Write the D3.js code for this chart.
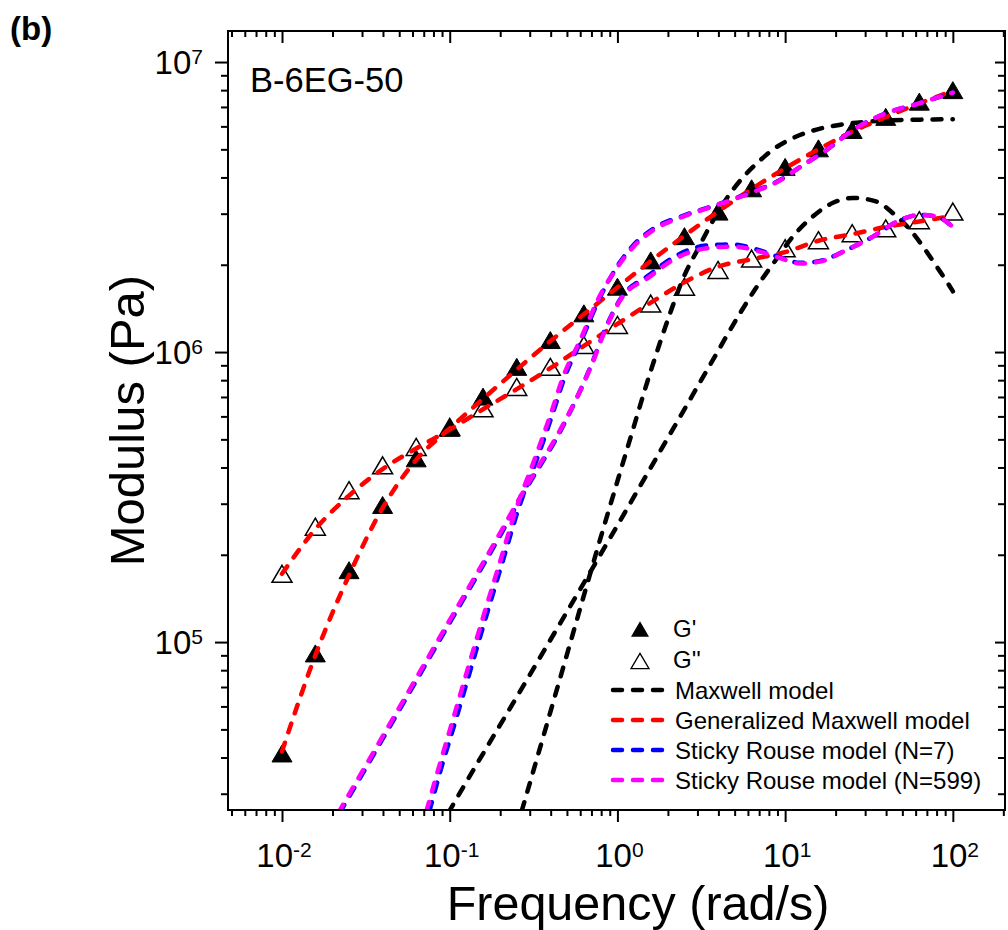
<!DOCTYPE html>
<html>
<head>
<meta charset="utf-8">
<script src="https://cdn.jsdelivr.net/npm/d3@7"></script>
<style>
  body { margin: 0; background: #fff; }
  text { font-family: Arial, "Liberation Sans", sans-serif; fill: #000; }
</style>
</head>
<body>
<div class="chart"></div>
<script>
// measured data (rad/s, Pa)
var omega = [0.01, 0.0158, 0.0251, 0.0398, 0.0631, 0.1, 0.158, 0.251, 0.398, 0.631, 1, 1.58, 2.51, 3.98, 6.31, 10, 15.8, 25.1, 39.8, 63.1, 100];
var gPrime = [41300, 91400, 177000, 297000, 430000, 548000, 702000, 889000, 1100000, 1360000, 1680000, 2070000, 2510000, 3050000, 3670000, 4350000, 5040000, 5830000, 6470000, 7300000, 8000000];
var gDouble = [172000, 250000, 334000, 407000, 471000, 552000, 640000, 758000, 889000, 1057000, 1240000, 1470000, 1680000, 1920000, 2100000, 2280000, 2430000, 2570000, 2670000, 2850000, 3050000];

// generalized Maxwell fit, same frequencies
var genMaxGp = [42000, 90000, 170000, 290000, 425000, 545000, 690000, 870000, 1090000, 1350000, 1670000, 2060000, 2520000, 3050000, 3650000, 4300000, 5000000, 5750000, 6450000, 7200000, 7950000];
var genMaxGpp = [172000, 245000, 320000, 395000, 465000, 540000, 635000, 745000, 880000, 1050000, 1250000, 1480000, 1740000, 1970000, 2090000, 2210000, 2420000, 2550000, 2700000, 2820000, 2950000];

// single Maxwell model [omega, G]
var maxwellGp = [[0.249, 22500], [0.27, 26400], [0.5, 90600], [0.787, 225000], [1.137, 459000], [1.6, 880000], [2.06, 1360000], [2.5, 1830000], [3.0, 2250000], [3.6, 2750000], [4.5, 3400000], [5.6, 4000000], [7.0, 4550000], [8.5, 5000000], [11, 5450000], [15.4, 5850000], [21, 6070000], [30, 6220000], [44, 6300000], [64, 6330000], [100, 6350000]];
var maxwellGpp = [[0.0857, 22500], [0.1005, 26400], [0.3, 77000], [0.942, 238000], [2.0, 506000], [3.5, 886000], [5.38, 1360000], [6.78, 1680000], [8.92, 2100000], [11.1, 2500000], [14.1, 2880000], [19.3, 3270000], [25.4, 3400000], [35.2, 3300000], [44, 3010000], [55.6, 2640000], [66.4, 2310000], [80.2, 1970000], [96.2, 1680000], [100, 1620000]];

// sticky Rouse N=599 [omega, G]
var rouse599Gp = [[0.0675, 22500], [0.073, 26400], [0.085, 36000], [0.1, 49500], [0.12, 71000], [0.15, 110000], [0.2, 190000], [0.25, 290000], [0.32, 425000], [0.4, 610000], [0.474, 820000], [0.6, 1100000], [0.78, 1550000], [1.0, 1960000], [1.24, 2300000], [1.63, 2630000], [2.46, 2930000], [3.91, 3210000], [6.18, 3530000], [9.33, 3910000], [12.3, 4350000], [17.7, 4980000], [25.4, 5830000], [40.4, 6670000], [63.7, 7220000], [100, 7850000]];
var rouse599Gpp = [[0.0189, 22500], [0.0222, 26400], [0.05, 59400], [0.1, 119000], [0.15, 178000], [0.2, 238000], [0.246, 295000], [0.3, 360000], [0.455, 538000], [0.7, 900000], [0.85, 1200000], [1.04, 1510000], [1.56, 1820000], [2.15, 2080000], [3.41, 2280000], [4.89, 2310000], [7.08, 2220000], [9.33, 2110000], [12.3, 2020000], [16.1, 2050000], [23.3, 2250000], [33.4, 2500000], [48.4, 2850000], [63.7, 2970000], [80.2, 2930000], [100, 2700000]];

// sticky Rouse N=7 [omega, G]
var rouse7Gp = [[0.0702, 22500], [0.076, 26400], [0.088, 36000], [0.104, 49500], [0.125, 71000], [0.156, 110000], [0.207, 190000], [0.258, 290000], [0.33, 425000], [0.41, 610000], [0.485, 820000], [0.61, 1100000], [0.79, 1550000], [1.0, 1980000], [1.24, 2330000], [1.63, 2660000], [2.46, 2950000], [3.91, 3220000], [6.18, 3540000], [9.33, 3920000], [12.3, 4350000], [17.7, 4980000], [25.4, 5830000], [40.4, 6670000], [63.7, 7220000], [100, 7850000]];
var rouse7Gpp = [[0.0192, 22500], [0.0226, 26400], [0.051, 59400], [0.102, 119000], [0.153, 178000], [0.204, 238000], [0.25, 295000], [0.305, 360000], [0.46, 538000], [0.7, 905000], [0.85, 1210000], [1.04, 1520000], [1.56, 1850000], [2.15, 2120000], [3.41, 2330000], [4.89, 2350000], [7.08, 2240000], [9.33, 2120000], [12.3, 2030000], [16.1, 2060000], [23.3, 2250000], [33.4, 2500000], [48.4, 2850000], [63.7, 2970000], [80.2, 2930000], [100, 2700000]];

var xMajor = [0.01, 0.1, 1, 10, 100];
var yMajor = [1e5, 1e6, 1e7];

var legendItems = ["Maxwell model", "Generalized Maxwell model", "Sticky Rouse model (N=7)", "Sticky Rouse model (N=599)"];
var legendColors = ["#000000", "#ff0000", "#0000ff", "#ff00ff"];

var W = 1008, H = 930;
var pLeft = 228, pRight = 1005, pTop = 31, pBottom = 810;

var svg = d3.select(".chart").append("svg")
    .attr("width", W)
    .attr("height", H);

var xScale = d3.scaleLog()
    .domain([Math.pow(10, -2.322), Math.pow(10, 2.311)])
    .range([pLeft, pRight]);
var yScale = d3.scaleLog()
    .domain([Math.pow(10, 4.421), Math.pow(10, 7.107)])
    .range([pBottom, pTop]);

function minorTicks(scale, lo, hi) {
    var out = [];
    var d = scale.domain();
    for (var e = lo; e <= hi; e++) {
        for (var k = 2; k <= 9; k++) {
            var v = k * Math.pow(10, e);
            if (v > d[0] && v < d[1]) out.push(v);
        }
    }
    return out;
}
var xMinor = minorTicks(xScale, -3, 2);
var yMinor = minorTicks(yScale, 4, 7);

function tickAxis(axis, g) {
    g.call(axis);
    g.select(".domain").remove();
    g.selectAll(".tick line").attr("stroke", "#000").attr("stroke-width", 2);
}

// bottom (outside) and top (inside)
tickAxis(d3.axisBottom(xScale).tickValues(xMajor).tickSize(12).tickFormat(""),
    svg.append("g").attr("transform", "translate(0," + pBottom + ")"));
tickAxis(d3.axisBottom(xScale).tickValues(xMinor).tickSize(6).tickFormat(""),
    svg.append("g").attr("transform", "translate(0," + pBottom + ")"));
tickAxis(d3.axisBottom(xScale).tickValues(xMajor).tickSize(12).tickFormat(""),
    svg.append("g").attr("transform", "translate(0," + pTop + ")"));
tickAxis(d3.axisBottom(xScale).tickValues(xMinor).tickSize(6).tickFormat(""),
    svg.append("g").attr("transform", "translate(0," + pTop + ")"));
// left (outside) and right (inside)
tickAxis(d3.axisLeft(yScale).tickValues(yMajor).tickSize(13).tickFormat(""),
    svg.append("g").attr("transform", "translate(" + pLeft + ",0)"));
tickAxis(d3.axisLeft(yScale).tickValues(yMinor).tickSize(7).tickFormat(""),
    svg.append("g").attr("transform", "translate(" + pLeft + ",0)"));
tickAxis(d3.axisLeft(yScale).tickValues(yMajor).tickSize(10).tickFormat(""),
    svg.append("g").attr("transform", "translate(" + pRight + ",0)"));
tickAxis(d3.axisLeft(yScale).tickValues(yMinor).tickSize(7).tickFormat(""),
    svg.append("g").attr("transform", "translate(" + pRight + ",0)"));

// tick labels as 10^n
function powLabel(sel) {
    sel.append("tspan").text("10");
    sel.append("tspan")
        .attr("font-size", 21)
        .attr("dy", -10)
        .text(function(d) { return Math.round(Math.log10(d)); });
}
svg.selectAll(".xlab").data(xMajor).enter().append("text")
    .attr("class", "xlab")
    .attr("x", function(d) { return xScale(d) + 2; })
    .attr("y", 867)
    .attr("text-anchor", "middle")
    .attr("font-size", 33)
    .call(powLabel);
svg.selectAll(".ylab").data(yMajor).enter().append("text")
    .attr("class", "ylab")
    .attr("x", 203)
    .attr("y", function(d) { return yScale(d) + 12; })
    .attr("text-anchor", "end")
    .attr("font-size", 33)
    .call(powLabel);

// axis titles
svg.append("text")
    .attr("x", 638)
    .attr("y", 920)
    .attr("text-anchor", "middle")
    .attr("font-size", 48.5)
    .text("Frequency (rad/s)");
svg.append("text")
    .attr("transform", "translate(144," + (pTop + pBottom) / 2 + ") rotate(-90)")
    .attr("text-anchor", "middle")
    .attr("font-size", 49)
    .text("Modulus (Pa)");

svg.append("text")
    .attr("x", 10)
    .attr("y", 40)
    .attr("font-size", 33)
    .attr("font-weight", "bold")
    .text("(b)");
svg.append("text")
    .attr("x", 250)
    .attr("y", 92)
    .attr("font-size", 34.5)
    .text("B-6EG-50");

// clip
svg.append("clipPath").attr("id", "plotclip")
    .append("rect")
    .attr("x", pLeft).attr("y", pTop)
    .attr("width", pRight - pLeft).attr("height", pBottom - pTop);

var plot = svg.append("g").attr("clip-path", "url(#plotclip)");

var triangle = {
    draw: function(context, size) {
        var w = Math.sqrt(size) / 2, h = w * 0.85;
        context.moveTo(0, -h);
        context.lineTo(w, h);
        context.lineTo(-w, h);
        context.closePath();
    }
};

function pointsFrom(vals) {
    return omega.map(function(w, i) { return [w, vals[i]]; });
}

var pointsGp = pointsFrom(gPrime);
var pointsGpp = pointsFrom(gDouble);

plot.selectAll(".gpp").data(pointsGpp).enter().append("path")
    .attr("class", "gpp")
    .attr("d", d3.symbol().type(triangle).size(400))
    .attr("transform", function(d) { return "translate(" + xScale(d[0]) + "," + yScale(d[1]) + ")"; })
    .attr("fill", "#fff")
    .attr("stroke", "#000")
    .attr("stroke-width", 1.5);
plot.selectAll(".gp").data(pointsGp).enter().append("path")
    .attr("class", "gp")
    .attr("d", d3.symbol().type(triangle).size(400))
    .attr("transform", function(d) { return "translate(" + xScale(d[0]) + "," + yScale(d[1]) + ")"; })
    .attr("fill", "#000")
    .attr("stroke", "#000")
    .attr("stroke-width", 1);

var line = d3.line()
    .x(function(d) { return xScale(d[0]); })
    .y(function(d) { return yScale(d[1]); })
    .curve(d3.curveMonotoneX);

function drawCurve(data, color) {
    plot.append("path")
        .datum(data)
        .attr("fill", "none")
        .attr("stroke", color)
        .attr("stroke-width", 4.5)
        .attr("stroke-linecap", "round")
        .attr("stroke-dasharray", "9,11")
        .attr("d", line);
}

drawCurve(maxwellGp, legendColors[0]);
drawCurve(maxwellGpp, legendColors[0]);
drawCurve(pointsFrom(genMaxGp), legendColors[1]);
drawCurve(pointsFrom(genMaxGpp), legendColors[1]);
drawCurve(rouse7Gp, legendColors[2]);
drawCurve(rouse7Gpp, legendColors[2]);
drawCurve(rouse599Gp, legendColors[3]);
drawCurve(rouse599Gpp, legendColors[3]);

// frame
svg.append("rect")
    .attr("x", pLeft).attr("y", pTop)
    .attr("width", pRight - pLeft).attr("height", pBottom - pTop)
    .attr("fill", "none")
    .attr("stroke", "#000")
    .attr("stroke-width", 2);

// legend
var legend = svg.append("g");
legend.append("path")
    .attr("d", d3.symbol().type(triangle).size(324))
    .attr("transform", "translate(640,629)")
    .attr("fill", "#000");
legend.append("text").attr("x", 673).attr("y", 637).attr("font-size", 24).text("G'");
legend.append("path")
    .attr("d", d3.symbol().type(triangle).size(324))
    .attr("transform", "translate(640,661)")
    .attr("fill", "#fff").attr("stroke", "#000").attr("stroke-width", 1.3);
legend.append("text").attr("x", 673).attr("y", 668).attr("font-size", 24).text("G''");

legendItems.forEach(function(name, i) {
    var y = 690 + i * 30;
    legend.append("line")
        .attr("x1", 613).attr("x2", 668)
        .attr("y1", y).attr("y2", y)
        .attr("stroke", legendColors[i])
        .attr("stroke-width", 4.5)
        .attr("stroke-linecap", "round")
        .attr("stroke-dasharray", "9,11");
    legend.append("text")
        .attr("x", 675)
        .attr("y", y + 9)
        .attr("font-size", 24)
        .text(name);
});
</script>
</body>
</html>
